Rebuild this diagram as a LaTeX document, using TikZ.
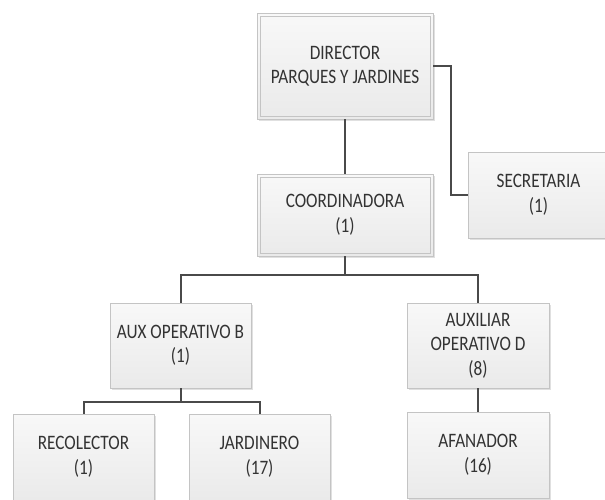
\documentclass[tikz,border=0pt]{standalone}
\usepackage{fontspec}
\setmainfont{Carlito}[FakeStretch=0.84]
\usetikzlibrary{shadows}
\definecolor{txtc}{HTML}{333333}
\definecolor{linec}{HTML}{4A4A4A}
\definecolor{bordc}{HTML}{C4C4C4}
\definecolor{topc}{HTML}{F8F8F8}
\definecolor{botc}{HTML}{EAEAEA}
\tikzset{
  orgbox/.style={draw=bordc, line width=0.9pt, top color=topc, bottom color=botc,
    text=txtc, align=center, inner sep=0pt,
    font=\fontsize{20.5}{24.5}\selectfont,
    drop shadow={shadow xshift=1.5pt, shadow yshift=-1.5pt, fill=black, opacity=0.12}},
  innerframe/.style={draw=bordc, line width=0.8pt},
  conn/.style={draw=linec, line width=2pt}
}
\begin{document}
\begin{tikzpicture}[x=1pt, y=-1pt]
\useasboundingbox (0,0) rectangle (605,499);
\clip (0,0) rectangle (605,499);
\fill[white] (0,0) rectangle (605,499);
% nodes
\node[orgbox, minimum width=176pt, minimum height=106pt] (dir) at (345,66) {DIRECTOR\\PARQUES Y JARDINES};
\node[orgbox, minimum width=176pt, minimum height=82pt] (coord) at (345,215) {COORDINADORA\\(1)};
\node[orgbox, minimum width=141pt, minimum height=86pt] (sec) at (538.5,195) {SECRETARIA\\(1)};
\node[orgbox, minimum width=141pt, minimum height=85pt] (auxb) at (180.5,345.5) {AUX OPERATIVO B\\(1)};
\node[orgbox, minimum width=142pt, minimum height=85pt] (auxd) at (478,345.5) {AUXILIAR\\OPERATIVO D\\(8)};
\node[orgbox, minimum width=141pt, minimum height=86pt] (rec) at (83.5,457) {RECOLECTOR\\(1)};
\node[orgbox, minimum width=141pt, minimum height=86pt] (jar) at (259.5,457) {JARDINERO\\(17)};
\node[orgbox, minimum width=142pt, minimum height=86pt] (afa) at (478,455) {AFANADOR\\(16)};
% inner frames
\draw[innerframe] ([shift={(3.5,3.5)}]dir.north west) rectangle ([shift={(-3.5,-3.5)}]dir.south east);
\draw[innerframe] ([shift={(3.5,3.5)}]coord.north west) rectangle ([shift={(-3.5,-3.5)}]coord.south east);
% bus points
\coordinate (bus1) at (345,275);
\coordinate (bus2) at (180.5,402);
% connectors
\draw[conn] (dir.south) -- (coord.north);
\draw[conn] (dir.east) -- ++(18,0) |- (sec.west);
\draw[conn] (coord.south) -- (bus1);
\draw[conn] (auxb.north) |- (bus1) -| (auxd.north);
\draw[conn] (auxb.south) -- (bus2);
\draw[conn] (rec.north) |- (bus2) -| (jar.north);
\draw[conn] (auxd.south) -- (afa.north);
\end{tikzpicture}
\end{document}
